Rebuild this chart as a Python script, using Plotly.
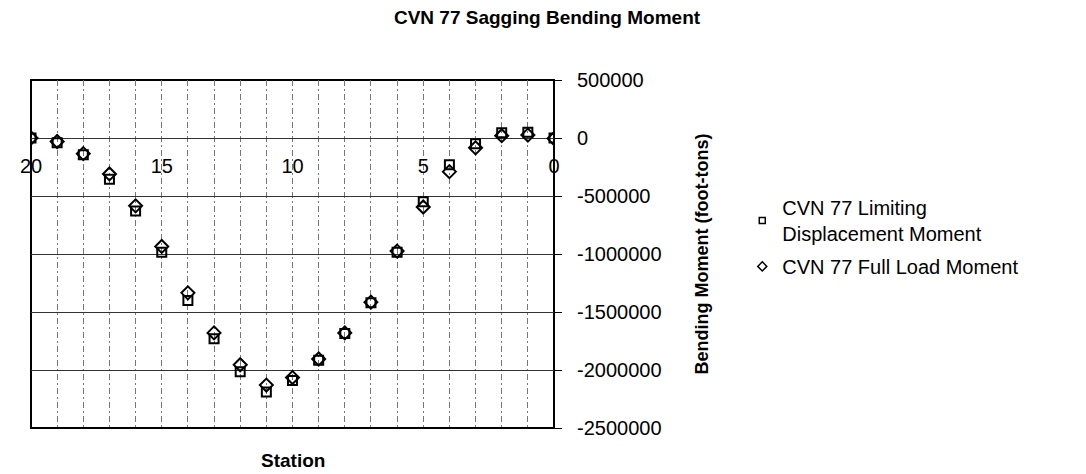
import plotly.graph_objects as go

# station numbers along the hull, and the two moment series (foot-tons)
stations = [20, 19, 18, 17, 16, 15, 14, 13, 12, 11, 10, 9, 8, 7, 6, 5, 4, 3, 2, 1, 0]
limiting_moment = [0, -40000, -145000, -355000, -630000, -985000, -1400000, -1730000,
                   -2015000, -2190000, -2090000, -1915000, -1685000, -1420000, -985000,
                   -550000, -230000, -50000, 45000, 50000, 0]
full_load_moment = [0, -30000, -135000, -310000, -585000, -935000, -1335000, -1680000,
                    -1955000, -2130000, -2065000, -1905000, -1680000, -1415000, -975000,
                    -595000, -290000, -85000, 20000, 25000, -5000]

# tick labels
x_tickvals = list(range(0, 21))
x_ticktext = [str(v) if v % 5 == 0 else "" for v in x_tickvals]
y_tickvals = [500000, 0, -500000, -1000000, -1500000, -2000000, -2500000]
y_ticktext = ["500000", "0", "-500000", "-1000000", "-1500000", "-2000000", "-2500000"]

FONT = "Liberation Sans, Arial, sans-serif"
y_min, y_max = -2500000, 500000

# the page body adds an 8px margin, so the figure is 8px smaller than the window
W, H = 1078, 466

fig = go.Figure()

fig.add_trace(go.Scatter(
    x=stations, y=limiting_moment, mode="markers", showlegend=False,
    name="CVN 77 Limiting<br>Displacement Moment",
    marker=dict(symbol="square-open", size=9, color="black", line=dict(width=2)),
))
fig.add_trace(go.Scatter(
    x=stations, y=full_load_moment, mode="markers", showlegend=False,
    name="CVN 77 Full Load Moment",
    marker=dict(symbol="diamond-open", size=10, color="black", line=dict(width=2)),
))

# legend entries with the small markers of the original
fig.add_trace(go.Scatter(
    x=[None], y=[None], mode="markers", xaxis="x2", legendgroup="a",
    name="CVN 77 Limiting<br>Displacement Moment",
    marker=dict(symbol="square-open", size=6, color="black", line=dict(width=1.5)),
))
fig.add_trace(go.Scatter(
    x=[None], y=[None], mode="markers", xaxis="x2", legendgroup="b",
    name="CVN 77 Full Load Moment",
    marker=dict(symbol="diamond-open", size=7, color="black", line=dict(width=1.5)),
))

fig.update_layout(
    width=W, height=H,
    margin=dict(l=15, r=532, t=72, b=46),
    paper_bgcolor="white", plot_bgcolor="white",
    font=dict(family=FONT, color="black", size=20),
    title=dict(text="<b>CVN 77 Sagging Bending Moment</b>", x=0.5, xref="container",
               y=1 - 9 / H, yanchor="middle", font=dict(size=19)),
    xaxis=dict(
        range=[20, 0], tickvals=x_tickvals, ticktext=x_ticktext, showticklabels=False,
        showgrid=True, gridcolor="#777", gridwidth=1, griddash="6px,3px,2px,3px",
        zeroline=False, showline=False, ticks="",
    ),
    xaxis2=dict(
        range=[20, 0], overlaying="x", anchor="free",
        position=(0 - y_min) / (y_max - y_min),
        tickvals=x_tickvals, ticktext=x_ticktext, showgrid=False, zeroline=False,
        showline=False, ticks="outside", ticklen=10, tickcolor="rgba(0,0,0,0)",
        tickfont=dict(size=20),
    ),
    yaxis=dict(
        range=[y_min, y_max], side="right", tickvals=y_tickvals, ticktext=y_ticktext,
        showgrid=True, gridcolor="#333", gridwidth=1, zeroline=False,
        showline=False, ticks="outside", ticklen=7, tickcolor="black",
        ticklabelstandoff=11, tickfont=dict(size=20),
        title=dict(text="<b>Bending Moment (foot-tons)</b>", font=dict(size=18), standoff=34),
    ),
    legend=dict(x=1.36, y=0.69, xanchor="left", yanchor="top", font=dict(size=20),
                bgcolor="rgba(0,0,0,0)", tracegroupgap=4),
    annotations=[dict(text="<b>Station</b>", x=0.5, y=-0.092, xref="paper", yref="paper",
                      showarrow=False, font=dict(size=19), yanchor="middle")],
    shapes=[dict(type="rect", xref="paper", yref="paper", x0=0, x1=1, y0=0, y1=1,
                 line=dict(color="black", width=2), layer="below")],
)

fig.write_html("out.html")
